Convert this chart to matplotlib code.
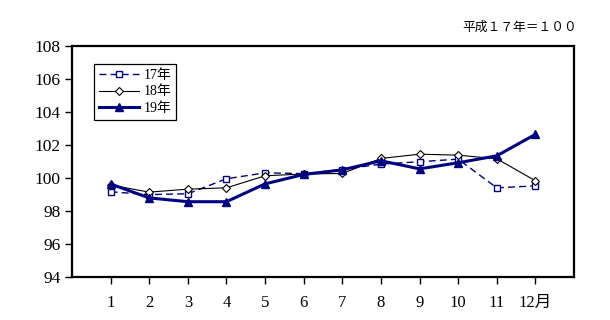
import matplotlib.pyplot as plt

plt.rcParams['font.family'] = ['Liberation Serif', 'Noto Sans CJK JP']

# データ
meses = [1, 2, 3, 4, 5, 6, 7, 8, 9, 10, 11, 12]
rotulos_x = ['1', '2', '3', '4', '5', '6', '7', '8', '9', '10', '11', '12月']
h17 = [99.17, 99.0, 99.05, 99.96, 100.32, 100.27, 100.52, 100.85, 100.99, 101.15, 99.41, 99.53]
h18 = [99.58, 99.15, 99.33, 99.41, 100.14, 100.25, 100.28, 101.19, 101.45, 101.39, 101.17, 99.84]
h19 = [99.64, 98.8, 98.57, 98.57, 99.65, 100.22, 100.5, 101.05, 100.56, 100.93, 101.35, 102.65]
nomes = ['17年', '18年', '19年']

navy = '#000080'

fig = plt.figure(figsize=(6.1, 3.2), dpi=100)
ax = fig.add_axes([0.118, 0.134, 0.823, 0.722])

ax.plot(meses, h17, color=navy, linestyle=(0, (5, 3)), linewidth=1.0, marker='s',
        markersize=5, markerfacecolor='white', markeredgecolor=navy, markeredgewidth=1.0,
        label=nomes[0], zorder=3)
ax.plot(meses, h18, color='black', linewidth=0.8, marker='D', markersize=3.8,
        markerfacecolor='white', markeredgecolor='black', markeredgewidth=0.8,
        label=nomes[1], zorder=4)
ax.plot(meses, h19, color=navy, linewidth=2.2, marker='^', markersize=6,
        markerfacecolor=navy, markeredgecolor=navy, label=nomes[2], zorder=5)

ax.set_xlim(0, 13)
ax.set_ylim(94, 108)
ax.set_yticks(range(94, 109, 2))
ax.set_xticks(meses)
ax.set_xticklabels(rotulos_x, fontsize=12)
ax.tick_params(axis='y', labelsize=12.5, length=5, width=1, direction='out', pad=3)
ax.tick_params(axis='x', length=5, width=1, direction='out', pad=8)
for s in ax.spines.values():
    s.set_linewidth(1.6)

leg = ax.legend(loc='upper left', bbox_to_anchor=(0.044, 0.922), borderaxespad=0,
                fancybox=False, edgecolor='black', fontsize=10, handlelength=2.9,
                labelspacing=0.25, borderpad=0.35, handletextpad=0.3, framealpha=1)
leg.get_frame().set_linewidth(0.9)

fig.text(0.946, 0.915, '平成１７年＝１００', fontsize=9.2, ha='right', va='center',
         family=['Noto Sans CJK JP'])

fig.savefig('out.png', dpi=100, facecolor='white')
